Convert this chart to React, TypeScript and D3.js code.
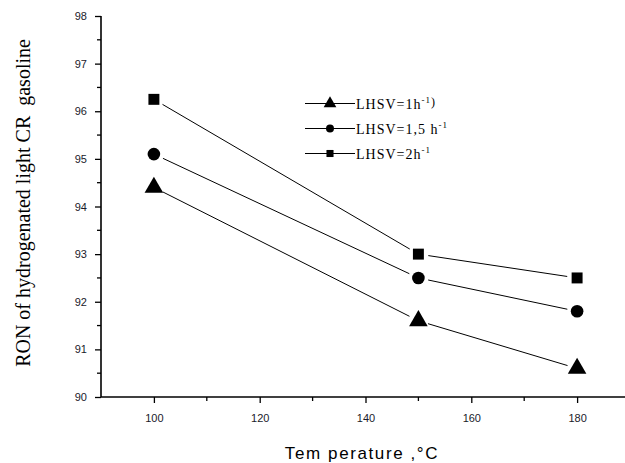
import React, { useEffect, useRef } from 'react';
import * as d3 from 'd3';

const temps = [100, 150, 180];
const lhsv1 = [94.4, 91.6, 90.6];
const lhsv15 = [95.1, 92.5, 91.8];
const lhsv2 = [96.25, 93.0, 92.5];
const legendNames = [['LHSV=1h', '-1', ')'], ['LHSV=1,5 h', '-1', ''], ['LHSV=2h', '-1', '']];
const symbols = ['triangle', 'circle', 'square'];
const xTicks = [100, 120, 140, 160, 180];
const yTicks = [90, 91, 92, 93, 94, 95, 96, 97, 98];

const W = 625;
const H = 463;

function App() {
  const ref = useRef<SVGSVGElement>(null);

  useEffect(() => {
    const svg = d3.select(ref.current);
    svg.selectAll('*').remove();

    const x = d3.scaleLinear().domain([90, 190]).range([101, 630]);
    const y = d3.scaleLinear().domain([90, 98]).range([397, 16]);

    const sym = (name: string, size: number) => {
      const t = name === 'triangle' ? d3.symbolTriangle : name === 'circle' ? d3.symbolCircle : d3.symbolSquare;
      return d3.symbol().type(t).size(size)();
    };

    // axes
    const yAxis = d3.axisLeft(y).tickValues(yTicks).tickSize(6).tickFormat(d3.format('d'));
    const gy = svg.append('g').attr('transform', 'translate(101,0)').call(yAxis);
    const yMinor = d3.range(90.5, 98, 1);
    gy.selectAll('.minor').data(yMinor).enter().append('line')
      .attr('x1', 0).attr('x2', -4).attr('y1', d => y(d)).attr('y2', d => y(d))
      .attr('stroke', '#000').attr('stroke-width', 1.3);

    const xAxis = d3.axisBottom(x).tickValues(xTicks).tickSize(6).tickFormat(d3.format('d'));
    const gx = svg.append('g').attr('transform', 'translate(0,397)').call(xAxis);
    gx.selectAll('.minor').data([110, 130, 150, 170]).enter().append('line')
      .attr('y1', 0).attr('y2', 4).attr('x1', d => x(d)).attr('x2', d => x(d))
      .attr('stroke', '#000').attr('stroke-width', 1.3);

    [gx, gy].forEach(g => {
      g.select('.domain').attr('stroke', '#000').attr('stroke-width', 1.6);
      g.selectAll('.tick line').attr('stroke', '#000').attr('stroke-width', 1.3);
      g.selectAll('.tick text').attr('fill', '#1a1a2a')
        .style('font-family', '"Liberation Sans", Arial, sans-serif').style('font-size', '11px');
    });
    gy.select('.domain').attr('d', `M-0,${y(98)}H0V${y(90)}H0`);
    gx.select('.domain').attr('d', `M${x(90)},0V0H${x(190)}V0`);
    gy.selectAll('.tick text').attr('x', -14);
    gx.selectAll('.tick text').attr('y', 17);

    // series
    const series = [lhsv1, lhsv15, lhsv2];
    series.forEach((vals, si) => {
      const pts = temps.map((t, i) => [x(t), y(vals[i])]);
      for (let i = 0; i < pts.length - 1; i++) {
        const [x1, y1] = pts[i];
        const [x2, y2] = pts[i + 1];
        const len = Math.hypot(x2 - x1, y2 - y1);
        const gap = 10;
        const ux = (x2 - x1) / len, uy = (y2 - y1) / len;
        svg.append('line')
          .attr('x1', x1 + ux * gap).attr('y1', y1 + uy * gap)
          .attr('x2', x2 - ux * gap).attr('y2', y2 - uy * gap)
          .attr('stroke', '#000').attr('stroke-width', 1);
      }
      const size = symbols[si] === 'triangle' ? 150 : symbols[si] === 'circle' ? 125 : 120;
      pts.forEach(([px, py]) => {
        svg.append('path').attr('d', sym(symbols[si], size))
          .attr('transform', `translate(${px},${py})`).attr('fill', '#000');
      });
    });

    // legend
    const ly = d3.scaleBand().domain(legendNames.map(d => d[0])).range([91, 166]);
    legendNames.forEach((n, i) => {
      const cy = (ly(n[0]) as number) + ly.bandwidth() / 2;
      const g = svg.append('g').attr('transform', `translate(0,${cy})`);
      g.append('line').attr('x1', 305).attr('x2', 355).attr('y1', 0).attr('y2', 0)
        .attr('stroke', '#000').attr('stroke-width', 1);
      g.append('path').attr('d', sym(symbols[i], symbols[i] === 'triangle' ? 70 : 50))
        .attr('transform', 'translate(330,0)').attr('fill', '#000');
      const t = g.append('text').attr('x', 356).attr('y', 5)
        .style('font-family', '"Liberation Serif", "Times New Roman", serif')
        .style('font-size', '14px').style('letter-spacing', '1px');
      t.append('tspan').text(n[0]);
      t.append('tspan').attr('dy', -6).style('font-size', '9px').text(n[1]);
      if (n[2]) t.append('tspan').attr('dy', 3).style('font-size', '12px').text(n[2]);
    });

    // axis titles
    svg.append('text')
      .attr('transform', 'translate(30,203) rotate(-90)')
      .attr('text-anchor', 'middle')
      .style('font-family', '"Liberation Serif", "Times New Roman", serif')
      .style('font-size', '20px')
      .attr('xml:space', 'preserve')
      .text('RON of hydrogenated light CR  gasoline');

    svg.append('text')
      .attr('x', 362).attr('y', 459)
      .attr('text-anchor', 'middle')
      .style('font-family', '"Liberation Sans", Arial, sans-serif')
      .style('font-size', '17px').style('letter-spacing', '1.6px')
      .attr('xml:space', 'preserve')
      .text('Tem perature ,°C');
  }, []);

  return (
    <svg ref={ref} width={W} height={H}
      style={{ position: 'absolute', left: 0, top: 0, background: '#fff' }} />
  );
}

export default App;
